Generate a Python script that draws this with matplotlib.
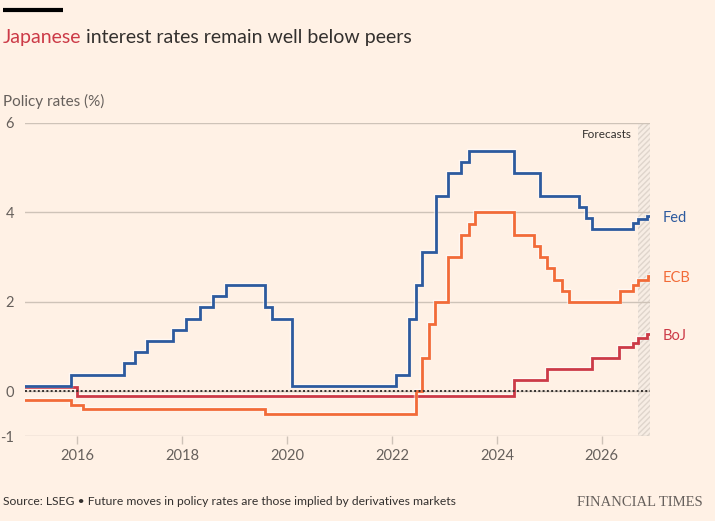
import matplotlib
matplotlib.use("Agg")
import matplotlib.pyplot as plt
import matplotlib.patheffects as pe

# policy rates, step changes (decimal year, %)
fed_dates = [2015.0, 2015.87, 2016.88, 2017.09, 2017.32, 2017.83, 2018.07, 2018.33, 2018.58,
             2018.84, 2019.58, 2019.71, 2020.09, 2022.07, 2022.33, 2022.45, 2022.57, 2022.83,
             2023.07, 2023.32, 2023.46, 2024.33, 2024.82, 2025.57, 2025.70, 2025.82, 2026.59,
             2026.70, 2026.87, 2026.92]
fed_vals = [0.125, 0.375, 0.625, 0.875, 1.125, 1.375, 1.625, 1.875, 2.125,
            2.375, 1.875, 1.625, 0.125, 0.375, 1.625, 2.375, 3.125, 4.375,
            4.875, 5.125, 5.375, 4.875, 4.375, 4.125, 3.875, 3.625, 3.76,
            3.85, 3.93, 3.93]

ecb_dates = [2015.0, 2015.87, 2016.11, 2019.58, 2022.45, 2022.58, 2022.71, 2022.82, 2023.07,
             2023.32, 2023.46, 2023.58, 2024.33, 2024.71, 2024.82, 2024.95, 2025.08, 2025.25,
             2025.38, 2026.34, 2026.60, 2026.70, 2026.88, 2026.92]
ecb_vals = [-0.2, -0.3, -0.4, -0.5, 0.0, 0.75, 1.5, 2.0, 3.0,
            3.5, 3.75, 4.0, 3.5, 3.25, 3.0, 2.75, 2.5, 2.25,
            2.0, 2.25, 2.38, 2.49, 2.58, 2.58]

boj_dates = [2015.0, 2016.0, 2024.33, 2024.95, 2025.82, 2026.33, 2026.60, 2026.70, 2026.87, 2026.92]
boj_vals = [0.1, -0.1, 0.25, 0.5, 0.75, 1.0, 1.08, 1.19, 1.29, 1.29]

series_names = ["BoJ", "ECB", "Fed"]
year_ticks = [2016, 2018, 2020, 2022, 2024, 2026]
rate_ticks = [-1, 0, 2, 4, 6]
rate_labels = ["-1", "0", "2", "4", "6"]
forecast_start = 2026.69

BG = "#FFF1E5"
GRID = "#CEC3B8"
TXT = "#66605C"
colours = {"Fed": "#2D5A9E", "ECB": "#F26B38", "BoJ": "#CC3A47"}

plt.rcParams["font.family"] = ["Lato", "DejaVu Sans"]
plt.rcParams["hatch.color"] = "#DFD5CC"

fig = plt.figure(figsize=(7.15, 5.21), dpi=100, facecolor=BG)
ax = fig.add_axes([25 / 715, 1 - 436 / 521, 625 / 715, 313 / 521])
ax.set_facecolor(BG)

ax.set_xlim(2015.0, 2026.92)
ax.set_ylim(-1, 6)

# forecast band
ax.axvspan(forecast_start, 2026.92, facecolor="#F7EDE4", edgecolor="#DFD5CC",
           hatch="//////", linewidth=0, zorder=0.5)
ax.text(forecast_start - 0.12, 5.74, "Forecasts", ha="right", va="center",
        fontsize=8.5, color="#33302E")

for y in rate_ticks:
    ax.axhline(y, color=GRID, linewidth=1, zorder=0.6)

data = {"Fed": (fed_dates, fed_vals), "ECB": (ecb_dates, ecb_vals), "BoJ": (boj_dates, boj_vals)}
for i, name in enumerate(series_names):
    d, v = data[name]
    ax.step(d, v, where="post", color=colours[name], linewidth=2.0, zorder=2 + i,
            solid_joinstyle="miter",
            path_effects=[pe.Stroke(linewidth=3.2, foreground="white", alpha=0.55), pe.Normal()])
    ax.annotate(name, xy=(d[-1], v[-1]), xytext=(9, -1.5), textcoords="offset points",
                ha="left", va="center", fontsize=10.5, color=colours[name],
                annotation_clip=False)

ax.axhline(0, color="#33302E", linewidth=1.4, linestyle=(0, (1, 1.2)), zorder=6)

for s in ax.spines.values():
    s.set_visible(False)
ax.set_xticks(year_ticks)
ax.set_xticklabels([str(y) for y in year_ticks])
ax.set_yticks(rate_ticks)
ax.set_yticklabels(rate_labels)
ax.tick_params(axis="x", length=6, width=1, color=GRID, labelcolor=TXT, labelsize=10.5, pad=3)
ax.tick_params(axis="y", length=0, labelcolor=TXT, labelsize=10.5, pad=8)

# header
fig.add_artist(plt.Line2D([3 / 715, 63 / 715], [1 - 10 / 521, 1 - 10 / 521], color="black",
                          linewidth=3, solid_capstyle="butt"))
t1 = fig.text(3 / 715, 1 - 43 / 521, "Japanese", fontsize=14, color="#CC3A47", va="baseline")
fig.canvas.draw()
bb = t1.get_window_extent()
fig.text(bb.x1 / 715 + 5 / 715, 1 - 43 / 521, "interest rates remain well below peers",
         fontsize=14, color="#33302E", va="baseline")
fig.text(3 / 715, 1 - 106 / 521, "Policy rates (%)", fontsize=11, color=TXT, va="baseline")

fig.text(3 / 715, 1 - 505 / 521,
         "Source: LSEG \u2022 Future moves in policy rates are those implied by derivatives markets",
         fontsize=8.75, color="#33302E", va="baseline")
fig.text(703 / 715, 1 - 506 / 521, "FINANCIAL TIMES", fontsize=10.5, color=TXT,
         family=["Liberation Serif", "DejaVu Serif"], ha="right", va="baseline")

fig.savefig("out.png", dpi=100, facecolor=BG)
